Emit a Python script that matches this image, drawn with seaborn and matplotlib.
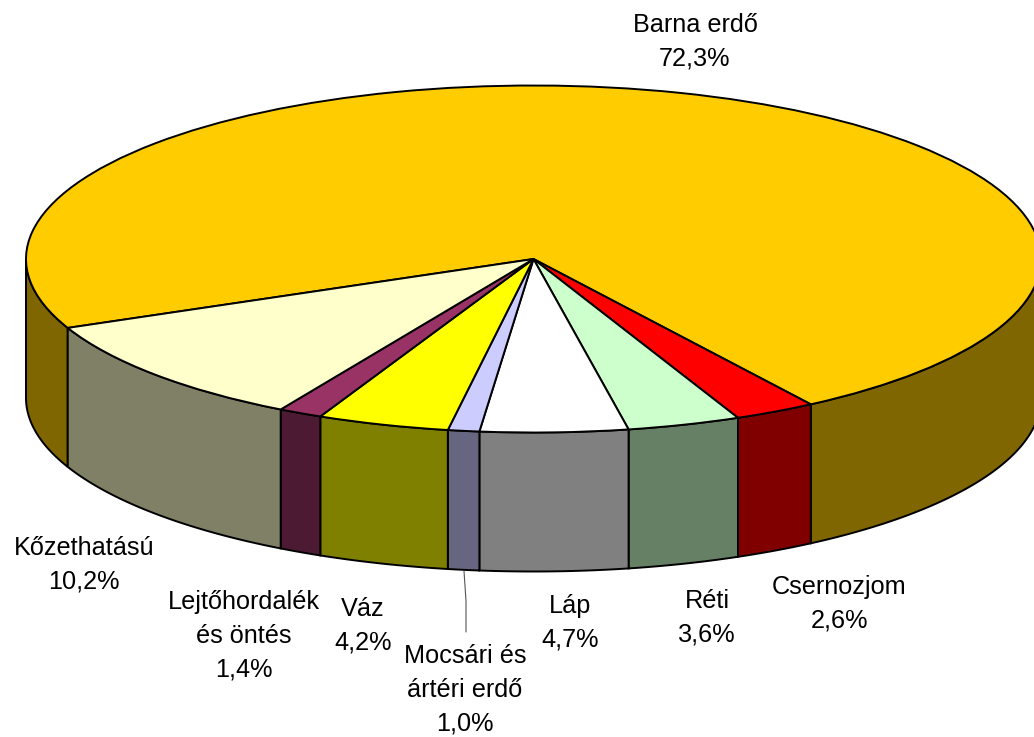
import numpy as np
import matplotlib
matplotlib.use("Agg")
import matplotlib.pyplot as plt
from matplotlib.lines import Line2D
import seaborn as sns

# Soil types, clockwise from the big slice
soil_names = ["Barna erdő", "Csernozjom", "Réti", "Láp", "Mocsári és\nártéri erdő",
              "Váz", "Lejtőhordalék\nés öntés", "Kőzethatású"]
soil_share = [72.3, 2.6, 3.6, 4.7, 1.0, 4.2, 1.4, 10.2]
top_colors = ["#FFCC00", "#FF0000", "#CCFFCC", "#FFFFFF", "#CCCCFF", "#FFFF00", "#993366", "#FFFFCC"]
side_colors = ["#806600", "#800000", "#668066", "#808080", "#666680", "#808000", "#4D1A33", "#808066"]

# Label centres in pixels of the 1034x737 picture
label_x = [695, 839, 707, 570, 465, 363, 244, 84]
label_y = [42, 604, 618, 623, 690, 626, 636, 565]

W, H = 1034, 737
cx, cy = 533.5, 259    # middle of the top ellipse, pixels
rx, ry = 507.5, 173.5  # half axes, pixels
depth = 139 / ry       # wall height in pie units
start = 203.4

sns.set_theme(style="white")
plt.rcParams["font.family"] = ["Liberation Sans", "DejaVu Sans"]

fig = plt.figure(figsize=(W / 100, H / 100), dpi=100)
ax = fig.add_axes([0, 0, 1, 1])

# Top face
ax.pie(soil_share, colors=sns.color_palette(top_colors), startangle=start, counterclock=False,
       wedgeprops={"edgecolor": "black", "linewidth": 1.4, "zorder": 2})
ax.set_aspect("auto")
ax.set_xlim(-cx / rx, (W - cx) / rx)
ax.set_ylim((cy - H) / ry, cy / ry)

# Side walls: only the part of each slice facing the viewer (-180..0 degrees)
edges = start - np.cumsum([0] + soil_share) * 3.6
for i, color in enumerate(side_colors):
    for turn in (-360, 0, 360):
        lo = max(edges[i + 1] + turn, -180)
        hi = min(edges[i] + turn, 0)
        if lo >= hi:
            continue
        t = np.radians(np.linspace(lo, hi, 60))
        xs = np.r_[np.cos(t), np.cos(t[::-1])]
        ys = np.r_[np.sin(t), np.sin(t[::-1]) - depth]
        ax.fill(xs, ys, facecolor=color, edgecolor="black", linewidth=1.4, zorder=1)

# Labels
for name, share, x, y in zip(soil_names, soil_share, label_x, label_y):
    text = name + "\n" + f"{share:.1f}%".replace(".", ",")
    fig.text(x / W, 1 - y / H, text, ha="center", va="center", fontsize=18.2,
             linespacing=1.52, color="black")

# Leader line for the thin slice
fig.add_artist(Line2D(np.array([464, 466, 466]) / W, 1 - np.array([571, 601, 632]) / H,
                      color="#555555", linewidth=0.8, transform=fig.transFigure))

plt.savefig("out.png", dpi=100)
